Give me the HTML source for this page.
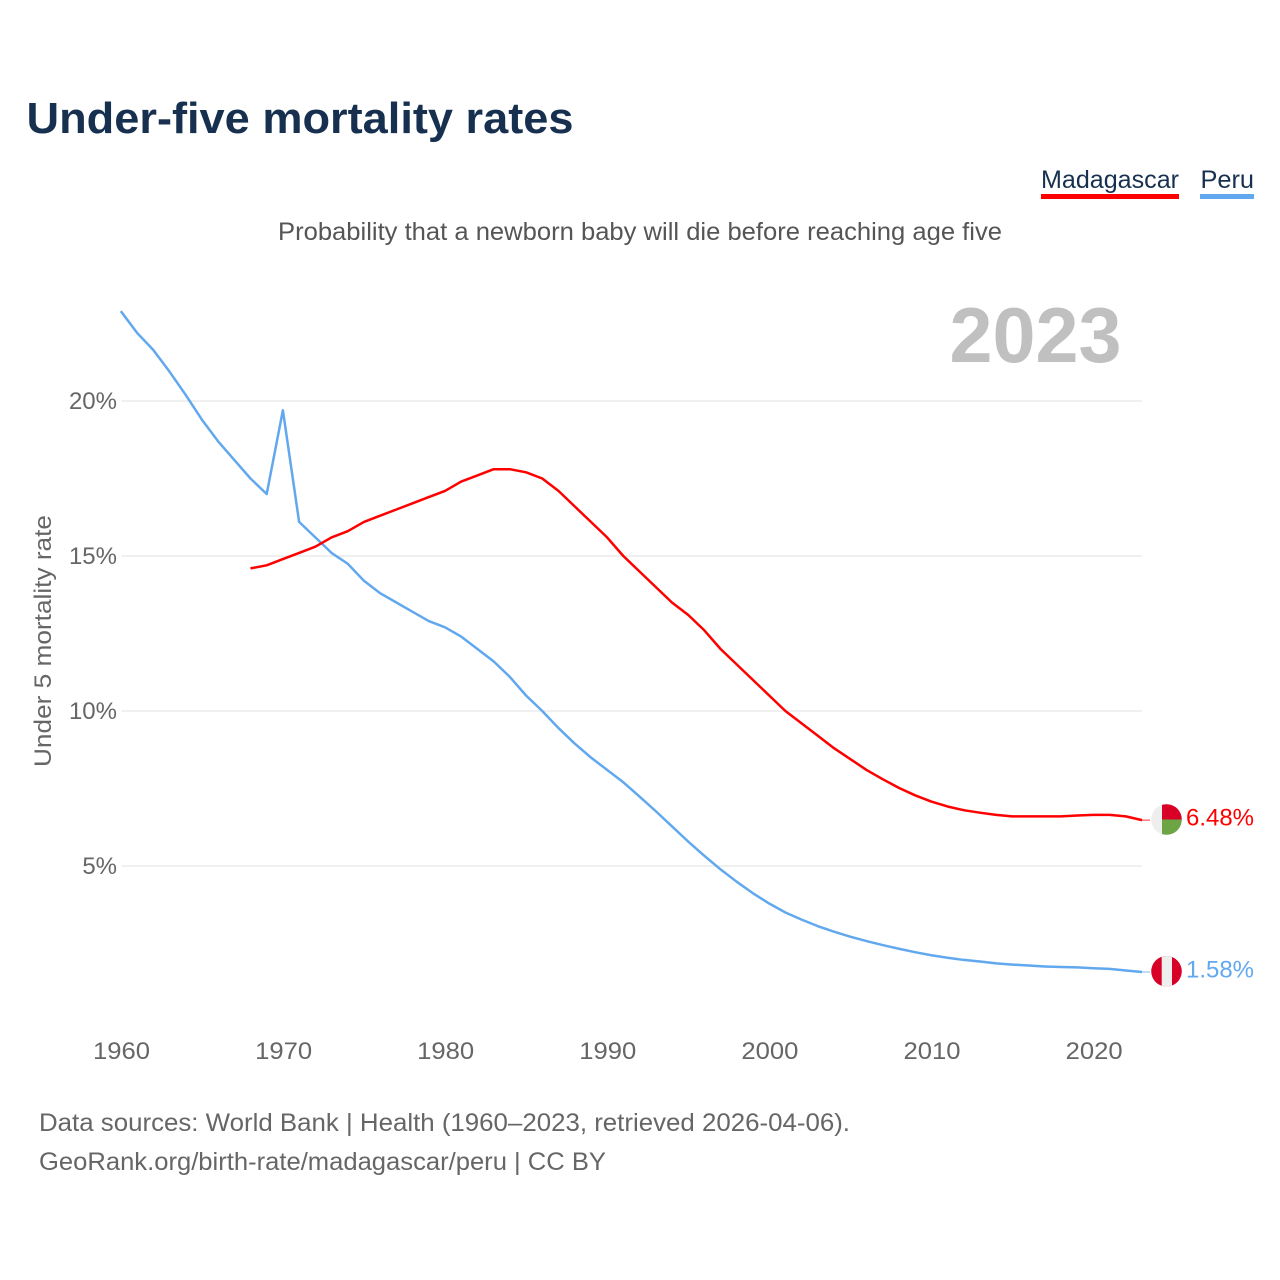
<!DOCTYPE html>
<html lang="en">
<head>
<meta charset="utf-8">
<title>Under-five mortality rates</title>
<style>
html,body{margin:0;padding:0;background:#fff;}
svg{display:block;}
text{font-family:"Liberation Sans",sans-serif;}
</style>
</head>
<body>
<svg id="chart" xmlns="http://www.w3.org/2000/svg" width="1280" height="1280" viewBox="0 0 1280 1280">
  <defs>
    <clipPath id="clip-mg"><circle cx="1166.5" cy="819.5" r="15.3"/></clipPath>
    <clipPath id="clip-pe"><circle cx="1166.5" cy="971.3" r="15.3"/></clipPath>
  </defs>
  <rect x="0" y="0" width="1280" height="1280" fill="#fff"/>
  <text x="26.5" y="133" font-size="44" font-weight="700" fill="#17304f" textLength="547" lengthAdjust="spacingAndGlyphs">Under-five mortality rates</text>
  <g>
    <text x="1041" y="188" font-size="25" fill="#17304f" textLength="138" lengthAdjust="spacingAndGlyphs">Madagascar</text>
    <rect x="1041" y="194" width="138" height="5" fill="#ff0000"/>
    <text x="1200.5" y="188" font-size="25" fill="#17304f" textLength="53.5" lengthAdjust="spacingAndGlyphs">Peru</text>
    <rect x="1200" y="194" width="54" height="5" fill="#62a8ee"/>
  </g>
  <text x="278" y="240" font-size="25" fill="#555" textLength="724" lengthAdjust="spacingAndGlyphs">Probability that a newborn baby will die before reaching age five</text>
  <text x="949.5" y="362" font-size="78" font-weight="700" fill="#c0c0c0" textLength="172" lengthAdjust="spacingAndGlyphs">2023</text>
  <g id="grid"></g>
  <g id="yticks"></g>
  <g id="xticks"></g>
  <text transform="translate(51 767) rotate(-90)" x="0" y="0" font-size="24" fill="#666" textLength="252" lengthAdjust="spacingAndGlyphs">Under 5 mortality rate</text>
  <g id="series"></g>
  <g clip-path="url(#clip-mg)">
    <rect x="1151" y="804" width="31" height="32" fill="#eeeeee"/>
    <rect x="1162" y="804" width="20" height="15.5" fill="#d80027"/>
    <rect x="1162" y="819.5" width="20" height="16" fill="#6da544"/>
  </g>
  <g clip-path="url(#clip-pe)">
    <rect x="1151" y="955" width="31" height="32" fill="#d80027"/>
    <rect x="1161.7" y="955" width="10.3" height="32" fill="#eeeeee"/>
  </g>
  <g id="endlabels"></g>
  <text x="39" y="1131" font-size="25" fill="#666" textLength="811" lengthAdjust="spacingAndGlyphs">Data sources: World Bank | Health (1960–2023, retrieved 2026-04-06).</text>
  <text x="39" y="1170" font-size="25" fill="#666" textLength="567" lengthAdjust="spacingAndGlyphs">GeoRank.org/birth-rate/madagascar/peru | CC BY</text>
</svg>
<script>
const yTickValues = [5, 10, 15, 20];
const xTickValues = [1960, 1970, 1980, 1990, 2000, 2010, 2020];
const peruStartYear = 1960;
const peruValues = [22.9,22.2,21.65,20.95,20.2,19.4,18.7,18.1,17.5,17.0,19.7,16.1,15.6,15.1,14.75,14.2,13.8,13.5,13.2,12.9,12.7,12.4,12.0,11.6,11.1,10.5,10.0,9.45,8.95,8.5,8.1,7.7,7.24,6.77,6.28,5.79,5.33,4.89,4.49,4.12,3.79,3.5,3.27,3.06,2.88,2.72,2.58,2.45,2.33,2.22,2.12,2.04,1.97,1.92,1.86,1.82,1.79,1.76,1.74,1.73,1.7,1.68,1.63,1.58];
const madagascarStartYear = 1968;
const madagascarValues = [14.6,14.7,14.9,15.1,15.3,15.6,15.8,16.1,16.3,16.5,16.7,16.9,17.1,17.4,17.6,17.8,17.8,17.7,17.5,17.1,16.6,16.1,15.6,15.0,14.5,14.0,13.5,13.1,12.6,12.0,11.5,11.0,10.5,10.0,9.6,9.2,8.8,8.45,8.1,7.8,7.52,7.28,7.08,6.92,6.8,6.72,6.65,6.6,6.6,6.6,6.6,6.63,6.65,6.65,6.6,6.48];

const NS = 'http://www.w3.org/2000/svg';
function xScale(year) { return 120.8 + (year - 1960) * 16.21; }
function yScale(v) { return 1021 - v * 31; }
function make(tag, attrs, parent, content) {
  const el = document.createElementNS(NS, tag);
  for (const k in attrs) el.setAttribute(k, attrs[k]);
  if (content !== undefined) el.textContent = content;
  parent.appendChild(el);
  return el;
}
const grid = document.getElementById('grid');
const yticks = document.getElementById('yticks');
const xticks = document.getElementById('xticks');
const seriesG = document.getElementById('series');
const endG = document.getElementById('endlabels');

yTickValues.forEach(function (v) {
  const line = make('line', {x1: 121.5, x2: 1142, y1: yScale(v), y2: yScale(v), stroke: '#ececec', 'stroke-width': 1.5}, grid);
  
  
  const t = make('text', {x: 117, y: yScale(v) + 8, 'text-anchor': 'end', 'font-size': 24, fill: '#666'}, yticks, v + '%');
  
  
});
xTickValues.forEach(function (yr) {
  const t = make('text', {x: xScale(yr) + 0.7, y: 1059, 'text-anchor': 'middle', 'font-size': 24, fill: '#666', textLength: 57, lengthAdjust: 'spacingAndGlyphs'}, xticks, String(yr));
  
  
});
function drawSeries(values, start, color, name) {
  const pts = values.map(function (v, i) { return xScale(start + i).toFixed(2) + ',' + yScale(v).toFixed(2); }).join(' ');
  const line = make('polyline', {points: pts, fill: 'none', stroke: color, 'stroke-width': 2.5, 'stroke-linejoin': 'round'}, seriesG);
  
  
  const last = values[values.length - 1];
  const lead = make('line', {x1: xScale(start + values.length - 1), x2: 1150, y1: yScale(last), y2: yScale(last), stroke: color, 'stroke-width': 1, opacity: 0.8}, seriesG);
  
  
  const lab = make('text', {x: 1186, y: yScale(last) + 5.5, 'font-size': 24.5, fill: color, textLength: 68, lengthAdjust: 'spacingAndGlyphs'}, endG, last.toFixed(2) + '%');
  
  
}
drawSeries(peruValues, peruStartYear, '#62a8ee', 'peru');
drawSeries(madagascarValues, madagascarStartYear, '#ff0000', 'madagascar');
</script>
</body>
</html>
